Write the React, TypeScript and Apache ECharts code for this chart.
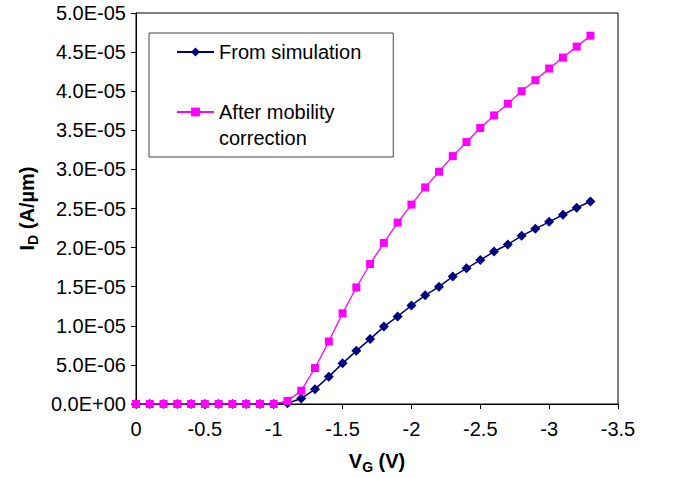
import React, { useEffect, useRef } from "react";
import * as echarts from "echarts";

const vg: number[] = [
  0, -0.1, -0.2, -0.3, -0.4, -0.5, -0.6, -0.7, -0.8, -0.9, -1.0, -1.1, -1.2, -1.3, -1.4, -1.5, -1.6,
  -1.7, -1.8, -1.9, -2.0, -2.1, -2.2, -2.3, -2.4, -2.5, -2.6, -2.7, -2.8, -2.9, -3.0, -3.1, -3.2, -3.3,
];

const fromSimulation: number[] = [
  0, 0, 0, 0, 0, 0, 0, 0, 0, 0, 0, 1e-7, 7e-7, 1.9e-6, 3.5e-6, 5.2e-6, 6.8e-6, 8.3e-6, 9.9e-6,
  1.12e-5, 1.26e-5, 1.39e-5, 1.5e-5, 1.63e-5, 1.735e-5, 1.84e-5, 1.95e-5, 2.04e-5, 2.15e-5, 2.24e-5,
  2.33e-5, 2.42e-5, 2.51e-5, 2.59e-5,
];

const afterCorrection: number[] = [
  0, 0, 0, 0, 0, 0, 0, 0, 0, 0, 0, 4e-7, 1.7e-6, 4.6e-6, 8.0e-6, 1.16e-5, 1.49e-5, 1.79e-5, 2.06e-5,
  2.32e-5, 2.55e-5, 2.77e-5, 2.97e-5, 3.17e-5, 3.35e-5, 3.53e-5, 3.69e-5, 3.84e-5, 4.0e-5, 4.14e-5,
  4.29e-5, 4.43e-5, 4.57e-5, 4.71e-5,
];

const seriesNames: string[] = ["From simulation", "After mobility correction"];

const FONT = "'Liberation Sans', Arial, sans-serif";

function sci(v: number): string {
  if (v === 0) return "0.0E+00";
  const s = v.toExponential(1).toUpperCase();
  const [m, e] = s.split("E");
  const n = parseInt(e, 10);
  const sign = n < 0 ? "-" : "+";
  const abs = Math.abs(n);
  return `${m}E${sign}${abs < 10 ? "0" + abs : abs}`;
}

export default function App() {
  const ref = useRef<HTMLDivElement>(null);
  useEffect(() => {
    document.body.style.margin = "0";
    const chart = echarts.init(ref.current!, null, { renderer: "svg" });
    chart.setOption({
      animation: false,
      backgroundColor: "#ffffff",
      grid: {
        left: 136,
        right: 57,
        top: 13,
        bottom: 73,
        outerBoundsMode: "none",
        containLabel: false,
        show: true,
        borderColor: "#000",
        borderWidth: 1,
        backgroundColor: "transparent",
      },
      legend: {
        orient: "vertical",
        left: 149,
        top: 33,
        padding: [6, 32, 9, 27],
        itemGap: 11,
        itemWidth: 37,
        itemHeight: 11,
        borderColor: "#444",
        borderWidth: 1,
        backgroundColor: "#fff",
        textStyle: { fontFamily: FONT, fontSize: 20, color: "#000", lineHeight: 26 },
        formatter: (name: string) =>
          name === seriesNames[1] ? "{p|After mobility\ncorrection}" : name,
        data: [
          { name: seriesNames[0] },
          {
            name: seriesNames[1],
            textStyle: {
              rich: {
                p: { fontFamily: FONT, fontSize: 20, lineHeight: 26, padding: [26, 0, 0, 0], color: "#000" },
              },
            },
          },
        ],
      },
      xAxis: {
        type: "value",
        inverse: true,
        min: -3.5,
        max: 0,
        interval: 0.5,
        splitLine: { show: false },
        axisLine: { lineStyle: { color: "#000", width: 1 } },
        axisTick: { length: 5, lineStyle: { color: "#000" } },
        axisLabel: {
          color: "#000",
          fontFamily: FONT,
          fontSize: 20,
          margin: 15,
          formatter: (v: number) => (v === 0 ? "0" : String(Math.round(v * 10) / 10)),
        },
        name: "{b|V}{s|G}{b| (V)}",
        nameLocation: "middle",
        nameGap: 43,
        nameTextStyle: {
          rich: {
            b: { fontFamily: FONT, fontSize: 20, fontWeight: "bold", color: "#000", lineHeight: 24, verticalAlign: "bottom" },
            s: { fontFamily: FONT, fontSize: 14, fontWeight: "bold", color: "#000", lineHeight: 24, verticalAlign: "bottom", padding: [0, 0, -3, 0] },
          },
        },
      },
      yAxis: {
        type: "value",
        min: 0,
        max: 5e-5,
        interval: 5e-6,
        splitLine: { show: false },
        axisLine: { show: true, lineStyle: { color: "#000", width: 1 } },
        axisTick: { show: true, length: 5, lineStyle: { color: "#000" } },
        axisLabel: {
          color: "#000",
          fontFamily: FONT,
          fontSize: 20,
          margin: 10,
          formatter: (v: number) => sci(v),
        },
        name: "{b|I}{s|D}{b| (A/µm)}",
        nameLocation: "middle",
        nameGap: 98,
        nameTextStyle: {
          rich: {
            b: { fontFamily: FONT, fontSize: 20, fontWeight: "bold", color: "#000", lineHeight: 24, verticalAlign: "bottom" },
            s: { fontFamily: FONT, fontSize: 14, fontWeight: "bold", color: "#000", lineHeight: 24, verticalAlign: "bottom", padding: [0, 0, -3, 0] },
          },
        },
      },
      series: [
        {
          name: seriesNames[0],
          type: "line",
          data: vg.map((x, i) => [x, fromSimulation[i]]),
          symbol: "diamond",
          symbolSize: 10,
          lineStyle: { color: "#000080", width: 1.5 },
          itemStyle: { color: "#000080" },
        },
        {
          name: seriesNames[1],
          type: "line",
          data: vg.map((x, i) => [x, afterCorrection[i]]),
          symbol: "rect",
          symbolSize: 8,
          lineStyle: { color: "#ff00ff", width: 1.3 },
          itemStyle: { color: "#ff00ff" },
        },
      ],
    });
    return () => chart.dispose();
  }, []);
  return <div ref={ref} style={{ width: 675, height: 477 }} />;
}
